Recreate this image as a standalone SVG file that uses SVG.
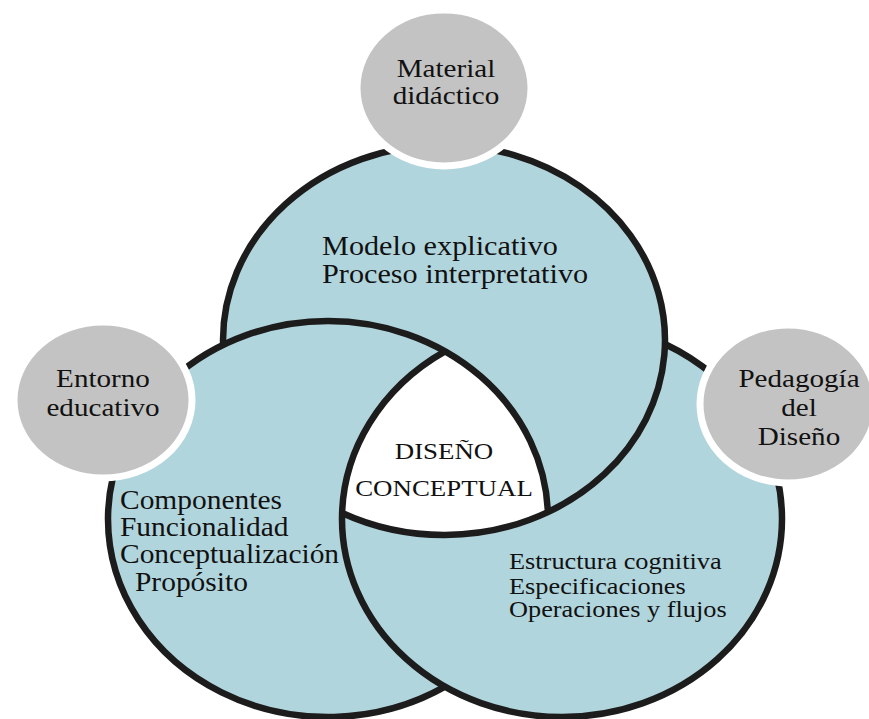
<svg xmlns="http://www.w3.org/2000/svg" width="869" height="719" viewBox="0 0 869 719">
  <style>
    .fill { fill: #b1d5dd; stroke: none; }
    .edge { fill: none; stroke: #1c1c1c; stroke-width: 6.5; stroke-linejoin: round; }
    .badge { fill: #c3c3c3; stroke: #ffffff; stroke-width: 7; }
    .t { font-family: 'Liberation Serif', 'Times New Roman', serif; fill: #111111; }
  </style>
  <rect width="869" height="719" fill="#ffffff"/>

  <g id="circle-top-fill"><ellipse class="fill" cx="444" cy="340" rx="221" ry="195"/></g>
  <g id="circle-left-fill"><ellipse class="fill" cx="328" cy="519" rx="220" ry="198"/></g>
  <g id="circle-right-fill"><ellipse class="fill" cx="562" cy="519" rx="220" ry="198"/></g>

  <g id="center">
    <path d="M 445 351.3 A 220 198 0 0 1 547.9 512.1 A 221 195 0 0 1 342.1 513 A 220 198 0 0 1 445 351.3 Z" fill="#ffffff"/>
  </g>

  <g id="outlines">
    <path class="edge" d="M 223.1 345 A 221 195 0 0 1 444 145 A 221 195 0 0 1 547.9 512.1 A 221 195 0 0 1 342.1 513"/>
    <path class="edge" d="M 547.9 512.1 A 220 198 0 0 0 328 321 A 220 198 0 0 0 108 519 A 220 198 0 0 0 445 686.7"/>
    <path class="edge" d="M 445 351.3 A 220 198 0 0 0 342 519 A 220 198 0 0 0 562 717 A 220 198 0 0 0 782 519 A 220 198 0 0 0 664.9 344"/>
  </g>

  <g id="node-material">
    <ellipse class="badge" cx="444" cy="88" rx="87" ry="78"/>
    <g transform="translate(446,0) scale(1.12,1)">
      <text class="t" font-size="26" text-anchor="middle"><tspan x="0" y="77">Material</tspan><tspan x="0" y="104">didáctico</tspan></text>
    </g>
  </g>

  <g id="node-entorno">
    <ellipse class="badge" cx="103" cy="400" rx="89" ry="78"/>
    <g transform="translate(103,0) scale(1.12,1)">
      <text class="t" font-size="26" text-anchor="middle"><tspan x="0" y="387">Entorno</tspan><tspan x="0" y="416">educativo</tspan></text>
    </g>
  </g>

  <g id="node-pedagogia">
    <ellipse class="badge" cx="788" cy="404" rx="88" ry="79"/>
    <g transform="translate(799,0) scale(1.12,1)">
      <text class="t" font-size="26" text-anchor="middle"><tspan x="0" y="387">Pedagogía</tspan><tspan x="0" y="416">del</tspan><tspan x="0" y="445">Diseño</tspan></text>
    </g>
  </g>

  <g id="text-top">
    <g transform="translate(322,0) scale(1.12,1)">
      <text class="t" font-size="27"><tspan x="0" y="255">Modelo explicativo</tspan><tspan x="0" y="283">Proceso interpretativo</tspan></text>
    </g>
  </g>

  <g id="text-left">
    <g transform="translate(120,0) scale(1.12,1)">
      <text class="t" font-size="26.3"><tspan x="0" y="509">Componentes</tspan><tspan x="0" y="536">Funcionalidad</tspan><tspan x="0" y="563">Conceptualización</tspan><tspan x="13.4" y="591">Propósito</tspan></text>
    </g>
  </g>

  <g id="text-center">
    <g transform="translate(444,0) scale(1.12,1)">
      <text class="t" font-size="24" text-anchor="middle"><tspan x="0" y="459">DISEÑO</tspan><tspan x="0" y="496">CONCEPTUAL</tspan></text>
    </g>
  </g>

  <g id="text-right">
    <g transform="translate(509,0) scale(1.12,1)">
      <text class="t" font-size="23.5"><tspan x="0" y="569">Estructura cognitiva</tspan><tspan x="0" y="594">Especificaciones</tspan><tspan x="0" y="617">Operaciones y flujos</tspan></text>
    </g>
  </g>
</svg>
